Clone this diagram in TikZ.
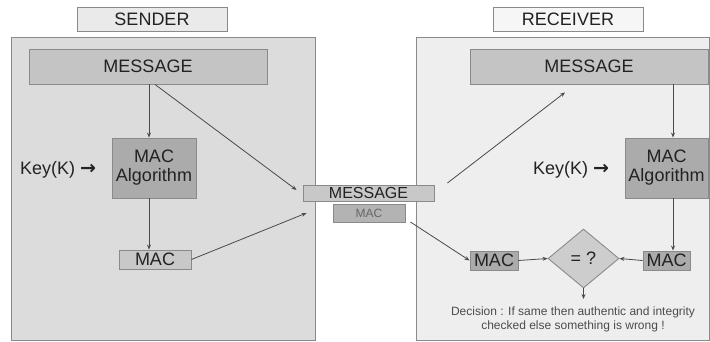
\documentclass[tikz,border=0pt]{standalone}
\usepackage{fontspec}
\setmainfont{Liberation Sans}
\newfontfamily\arrowfont{DejaVu Sans Bold}
\usetikzlibrary{arrows.meta,shapes.geometric,calc}
\definecolor{spanel}{HTML}{DCDCDC}
\definecolor{rpanel}{HTML}{EEEEEE}
\definecolor{edge}{HTML}{8A8A8A}
\definecolor{msgfill}{HTML}{C4C4C4}
\definecolor{algfill}{HTML}{ABABAB}
\definecolor{macfill}{HTML}{C8C8C8}
\definecolor{linec}{HTML}{4A4A4A}
\definecolor{txt}{HTML}{222222}
\newcommand{\keyarrow}{{\arrowfont\fontsize{19}{21}\selectfont →}}
\tikzset{
  box/.style={draw=edge, line width=0.9pt, inner sep=0pt, text=txt, align=center},
  big/.style={font=\fontsize{18}{21}\selectfont},
  arr/.style={draw=linec, line width=0.8pt, -{Stealth[length=5pt,width=4pt]}},
}
\begin{document}
\begin{tikzpicture}[x=1pt,y=-1pt]
\useasboundingbox (0,0) rectangle (710,341);
\fill[white] (0,0) rectangle (710,341);
% panels
\node[box, fill=spanel, minimum width=304pt, minimum height=303pt] (spanel) at (163,188.5) {};
\node[box, fill=rpanel, minimum width=293pt, minimum height=303pt] (rpanel) at (562.5,188.5) {};
% titles
\node[box, big, fill=spanel!60!white, minimum width=150pt, minimum height=24pt] (stitle) at (152,19) {SENDER};
\node[box, big, fill=rpanel!50!white, minimum width=150pt, minimum height=24pt] (rtitle) at (568,19) {RECEIVER};
% sender
\node[box, big, fill=msgfill, minimum width=238pt, minimum height=35pt] (smsg) at (148,66.5) {MESSAGE};
\node[box, big, fill=algfill, minimum width=84pt, minimum height=60pt] (salg) at (154,168) {MAC\\[-2pt]Algorithm};
\node[big, text=txt, inner sep=0pt] (skey) at (58,170) {Key(K) \keyarrow};
\node[box, big, fill=macfill, minimum width=72pt, minimum height=19pt] (smac) at (155,259.5) {MAC};
% centre
\node[box, font=\fontsize{16}{18}\selectfont, fill=macfill, minimum width=131pt, minimum height=16pt] (cmsg) at (368.5,193) {MESSAGE};
\node[box, font=\fontsize{12}{14}\selectfont, text=black!60, fill=algfill!90!white, minimum width=72pt, minimum height=18pt] (cmac) at (369,213) {MAC};
% receiver
\node[box, big, fill=msgfill, minimum width=238pt, minimum height=35pt] (rmsg) at (589,66.5) {MESSAGE};
\node[box, big, fill=algfill, minimum width=83pt, minimum height=60pt] (ralg) at (666.5,168) {MAC\\[-2pt]Algorithm};
\node[big, text=txt, inner sep=0pt] (rkey) at (571,170) {Key(K) \keyarrow};
\node[box, big, fill=algfill, minimum width=48pt, minimum height=19pt] (rmac1) at (494,260.5) {MAC};
\node[box, big, fill=algfill, minimum width=47pt, minimum height=19pt] (rmac2) at (666.5,260.5) {MAC};
\node[box, big, diamond, fill=macfill!90!white, minimum width=71pt, minimum height=59pt, aspect=1.2] (cmp) at (583.5,258.5) {= ?};
\coordinate (dec) at (583.5,299);
\node[font=\fontsize{12}{14}\selectfont, text=black!70, align=center, inner sep=0pt] (dtext) at (573,319) {Decision : If same then authentic and integrity\\checked else something is wrong !};
% connectors sender
\draw[arr] ([xshift=1pt]smsg.south) -- ([xshift=1pt]smsg.south |- salg.north);
\draw[arr] ([xshift=-5pt]salg.south) -- ([xshift=-5pt]salg.south |- smac.north);
\draw[arr] ([xshift=7pt]smsg.south) -- ([shift={(-6,-3)}]cmsg.west);
\draw[arr] (smac.east) -- ([xshift=-26pt]cmac.west);
% connectors receiver
\draw[arr] ([shift={(13,-10)}]cmsg.east) -- ([shift={(-24,8)}]rmsg.south);
\draw[arr] ([shift={(5,9)}]cmac.east) -- (rmac1.west);
\draw[arr] ([xshift=84pt]rmsg.south) -- ([xshift=84pt]rmsg.south |- ralg.north);
\draw[arr] ([xshift=6.5pt]ralg.south) -- ([xshift=6.5pt]ralg.south |- rmac2.north);
\draw[arr] (rmac1.east) -- (cmp.west);
\draw[arr] (rmac2.west) -- (cmp.east);
\draw[arr] (cmp.south) -- (dec);
\end{tikzpicture}
\end{document}
